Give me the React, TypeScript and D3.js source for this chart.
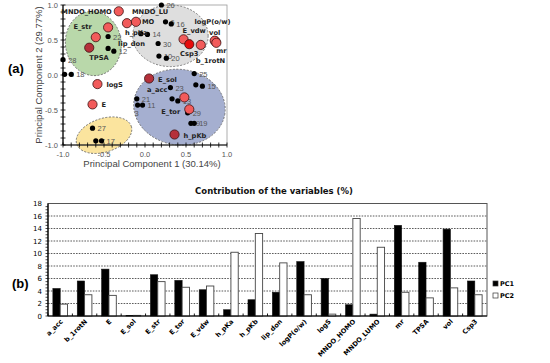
import React from 'react'
import * as d3 from 'd3'

// (a) loadings of the variables on PC1 / PC2
const varNames = ['MNDO_HOMO', 'MNDO_LUMO', 'h_pKa', 'lip_don', 'E_str', 'TPSA', 'logS', 'E', 'E_sol', 'a_acc', 'E_tor', 'h_pKb', 'E_vdw', 'Csp3', 'b_1rotN', 'logP(o/w)', 'vol', 'mr']
const varPC1 = [-0.32, -0.11, -0.22, -0.45, -0.6, -0.68, -0.58, -0.64, 0.05, 0.48, 0.54, 0.36, 0.47, 0.54, 0.68, 0.86, 0.85, 0.87]
const varPC2 = [0.91, 0.76, 0.74, 0.68, 0.54, 0.39, -0.13, -0.42, -0.05, -0.32, -0.49, -0.85, 0.51, 0.44, 0.43, 0.48, 0.49, 0.46]

// (a) scores of the compounds
const cmpIds = ['26', '6', '16', '', '14', '30', '10', '20', '22', '', '12', '28', '8', '18', '25', '', '15', '23', '', '13', '21', '3', '11', '29', '9', '19', '27', '7', '17']
const cmpPC1 = [0.2, 0.25, 0.32, -0.05, 0.03, 0.16, 0.17, 0.26, -0.45, -0.45, -0.38, -1.0, -0.98, -0.9, 0.6, 0.62, 0.7, 0.31, 0.33, 0.4, -0.1, -0.09, -0.03, 0.52, 0.56, 0.6, -0.64, -0.6, -0.53]
const cmpPC2 = [1.0, 0.76, 0.73, 0.59, 0.58, 0.45, 0.27, 0.24, 0.55, 0.38, 0.34, 0.22, 0.01, 0.01, 0.02, -0.14, -0.16, -0.18, -0.34, -0.37, -0.34, -0.43, -0.43, -0.54, -0.69, -0.69, -0.76, -0.94, -0.94]

// (a) cluster ellipses (centre and half axes in PC units)
const clusterCx = [-0.63, 0.31, 0.42, -0.5]
const clusterCy = [0.45, 0.56, -0.46, -0.86]
const clusterRx = [0.34, 0.46, 0.56, 0.35]
const clusterRy = [0.46, 0.44, 0.54, 0.24]

// (b) contribution of the variables (%)
const categories = ['a_acc', 'b_1rotN', 'E', 'E_sol', 'E_str', 'E_tor', 'E_vdw', 'h_pKa', 'h_pKb', 'lip_don', 'logP(o/w)', 'logS', 'MNDO_HOMO', 'MNDO_LUMO', 'mr', 'TPSA', 'vol', 'Csp3']
const pc1Contrib = [4.4, 5.6, 7.5, 0.1, 6.6, 5.7, 4.2, 1.0, 2.6, 3.8, 8.7, 6.0, 1.8, 0.3, 14.5, 8.6, 13.9, 5.6]
const pc2Contrib = [1.9, 3.4, 3.3, 0.1, 5.5, 4.6, 4.8, 10.2, 13.2, 8.5, 3.4, 0.3, 15.6, 11.0, 3.8, 2.9, 4.5, 3.4]
const yTicks = [0, 2, 4, 6, 8, 10, 12, 14, 16, 18]
const series = ['PC1', 'PC2']

const clusterFill = ['#b9d8aa', '#dedede', '#a5afd0', '#fbe49e']
const clusterTilt = [-8, 0, 8, -18]

// label placement next to each loading circle: dx, dy, anchor
const varLabel = {
  MNDO_HOMO: [-7, 3, 'end'],
  MNDO_LUMO: [-4, -8, 'start'],
  h_pKa: [-2, 12, 'start'],
  lip_don: [10, 19, 'start'],
  E_str: [-4, -8, 'end'],
  TPSA: [0, 12, 'start'],
  logS: [9, 3, 'start'],
  E: [9, 3, 'start'],
  E_sol: [9, 3, 'start'],
  a_acc: [-17, -5, 'end'],
  E_tor: [-9, 5, 'end'],
  h_pKb: [9, 3, 'start'],
  E_vdw: [-1, -6, 'start'],
  Csp3: [0, 12, 'middle'],
  b_1rotN: [-5, 18, 'start'],
  'logP(o/w)': [-3, -17, 'middle'],
  vol: [0, -6, 'middle'],
  mr: [0, 10, 'start'],
}
const varColor = (n) =>
  n === 'Csp3' ? '#e60b0b' : n === 'TPSA' || n === 'E_sol' || n === 'h_pKb' ? '#b5303a' : '#f25b5b'

const cmpLabel = { '3': [-3, 11] }

const Scatter = () => {
  const x = d3.scaleLinear().domain([-1, 1]).range([63, 227])
  const y = d3.scaleLinear().domain([-1, 1]).range([145, 5])
  const major = [-1, -0.5, 0, 0.5, 1]
  const minor = d3.range(-10, 11).map((i) => i / 10)
  const lab = { fontFamily: 'DejaVu Sans', fontWeight: 'bold', fontSize: 6.7, fill: '#222' }
  const num = { fontFamily: 'Liberation Sans', fontSize: 7.5, fill: '#555' }
  const tick = { fontFamily: 'Liberation Sans', fontSize: 7.5, fill: '#555' }
  return (
    <g>
      {clusterCx.map((cx, i) => (
        <ellipse
          key={i}
          cx={x(cx)}
          cy={y(clusterCy[i])}
          rx={x(clusterRx[i]) - x(0)}
          ry={y(0) - y(clusterRy[i])}
          transform={`rotate(${clusterTilt[i]} ${x(cx)} ${y(clusterCy[i])})`}
          fill={clusterFill[i]}
          stroke="#666"
          strokeWidth={0.8}
          strokeDasharray="2,1.5"
        />
      ))}
      <rect x={63} y={5} width={164} height={140} fill="none" stroke="#999" strokeWidth={0.8} />
      <line x1={63} x2={63} y1={5} y2={145} stroke="#000" strokeWidth={1.2} />
      <line x1={63} x2={227} y1={145} y2={145} stroke="#000" strokeWidth={1.2} />
      {minor.map((v) => (
        <g key={v}>
          <line x1={60.5} x2={65.5} y1={y(v)} y2={y(v)} stroke="#000" strokeWidth={0.8} />
          <line x1={x(v)} x2={x(v)} y1={142.5} y2={147.5} stroke="#000" strokeWidth={0.8} />
        </g>
      ))}
      {major.map((v) => (
        <g key={v}>
          <text x={58} y={y(v) + 2.7} textAnchor="end" style={tick}>{v.toFixed(1)}</text>
          <text x={x(v)} y={157} textAnchor="middle" style={tick}>{v.toFixed(1)}</text>
        </g>
      ))}
      <text x={152} y={167} textAnchor="middle" style={{ fontFamily: 'Liberation Sans', fontSize: 9.5, fill: '#444' }}>
        Principal Component 1 (30.14%)
      </text>
      <text
        transform={`translate(42,${y(0)}) rotate(-90)`}
        textAnchor="middle"
        style={{ fontFamily: 'Liberation Sans', fontSize: 9.5, fill: '#444' }}
      >
        Principal Component 2 (29.77%)
      </text>
      {cmpPC1.map((v, i) => {
        const off = cmpLabel[cmpIds[i]] || [5, 3]
        return (
          <g key={i}>
            <circle cx={x(v)} cy={y(cmpPC2[i])} r={2.6} fill="#000" />
            {cmpIds[i] && (
              <text x={x(v) + off[0]} y={y(cmpPC2[i]) + off[1]} style={num}>{cmpIds[i]}</text>
            )}
          </g>
        )
      })}
      {varNames.map((n, i) => (
        <circle key={n} cx={x(varPC1[i])} cy={y(varPC2[i])} r={4.6} fill={varColor(n)} stroke="#3a1010" strokeWidth={0.8} />
      ))}
      {varNames.map((n, i) => {
        const [dx, dy, anchor] = varLabel[n]
        const px = x(varPC1[i])
        const py = y(varPC2[i])
        if (n === 'MNDO_LUMO')
          return (
            <text key={n} style={lab}>
              <tspan x={px + dx} y={py + dy}>MNDO_LU</tspan>
              <tspan x={px + 6} y={py + 2}>MO</tspan>
            </text>
          )
        return (
          <text key={n} x={px + dx} y={py + dy} textAnchor={anchor} style={lab}>{n}</text>
        )
      })}
      <text x={8} y={73} style={{ fontFamily: 'Liberation Sans', fontWeight: 'bold', fontSize: 13, fill: '#000' }}>(a)</text>
    </g>
  )
}

const Bars = () => {
  const x = d3.scaleBand().domain(categories).range([48, 487]).paddingInner(0.4).paddingOuter(0.2)
  const sub = d3.scaleBand().domain(series).range([0, x.bandwidth()])
  const y = d3.scaleLinear().domain([0, 18]).range([316, 203.5])
  const step = x.step()
  const minor = d3.range(0, 36).map((i) => i / 2)
  const small = { fontFamily: 'DejaVu Sans', fontSize: 7, fill: '#000' }
  return (
    <g>
      <text x={274} y={194} textAnchor="middle" style={{ fontFamily: 'DejaVu Sans', fontWeight: 'bold', fontSize: 8.5, fill: '#111' }}>
        Contribution of the variables (%)
      </text>
      {yTicks.slice(1, -1).map((t) => (
        <line key={t} x1={48} x2={487} y1={y(t)} y2={y(t)} stroke="#333" strokeWidth={0.8} strokeDasharray="1.6,1.2" />
      ))}
      <rect x={48} y={y(18)} width={439} height={y(0) - y(18)} fill="none" stroke="#555" strokeWidth={1} />
      {categories.map((c, i) => (
        <g key={c}>
          <rect x={x(c) + sub('PC1')} y={y(pc1Contrib[i])} width={sub.bandwidth()} height={y(0) - y(pc1Contrib[i])} fill="#000" stroke="#111" strokeWidth={0.6} />
          <rect x={x(c) + sub('PC2')} y={y(pc2Contrib[i])} width={sub.bandwidth()} height={y(0) - y(pc2Contrib[i])} fill="#fff" stroke="#444" strokeWidth={0.9} />
          <line x1={x(c) - step * 0.2} x2={x(c) - step * 0.2} y1={316} y2={313.5} stroke="#000" strokeWidth={0.9} />
          <text
            transform={`translate(${x(c) + x.bandwidth() / 2 + 3},${322}) rotate(-45)`}
            textAnchor="end"
            style={{ ...small, fontWeight: 'bold', fontSize: 6.6 }}
          >
            {c}
          </text>
        </g>
      ))}
      <line x1={48} x2={48} y1={y(18)} y2={316} stroke="#000" strokeWidth={1.2} />
      <line x1={48} x2={487} y1={316} y2={316} stroke="#000" strokeWidth={1.2} />
      {minor.map((t) => (
        <line key={t} x1={45.5} x2={48} y1={y(t)} y2={y(t)} stroke="#000" strokeWidth={0.7} />
      ))}
      {yTicks.map((t) => (
        <text key={t} x={42} y={y(t) + 2.5} textAnchor="end" style={small}>{t}</text>
      ))}
      {series.map((s, i) => (
        <g key={s}>
          <rect x={493} y={281 + i * 12} width={5} height={5} fill={i === 0 ? '#000' : '#fff'} stroke="#333" strokeWidth={0.7} />
          <text x={500} y={286 + i * 12} style={{ ...small, fontWeight: 'bold', fontSize: 6.5 }}>{s}</text>
        </g>
      ))}
      <text x={12} y={288} style={{ fontFamily: 'Liberation Sans', fontWeight: 'bold', fontSize: 13, fill: '#000' }}>(b)</text>
    </g>
  )
}

export default function App() {
  return (
    <svg width={550} height={363} style={{ position: 'absolute', left: 0, top: 0, background: '#fff' }}>
      <Scatter />
      <Bars />
    </svg>
  )
}
